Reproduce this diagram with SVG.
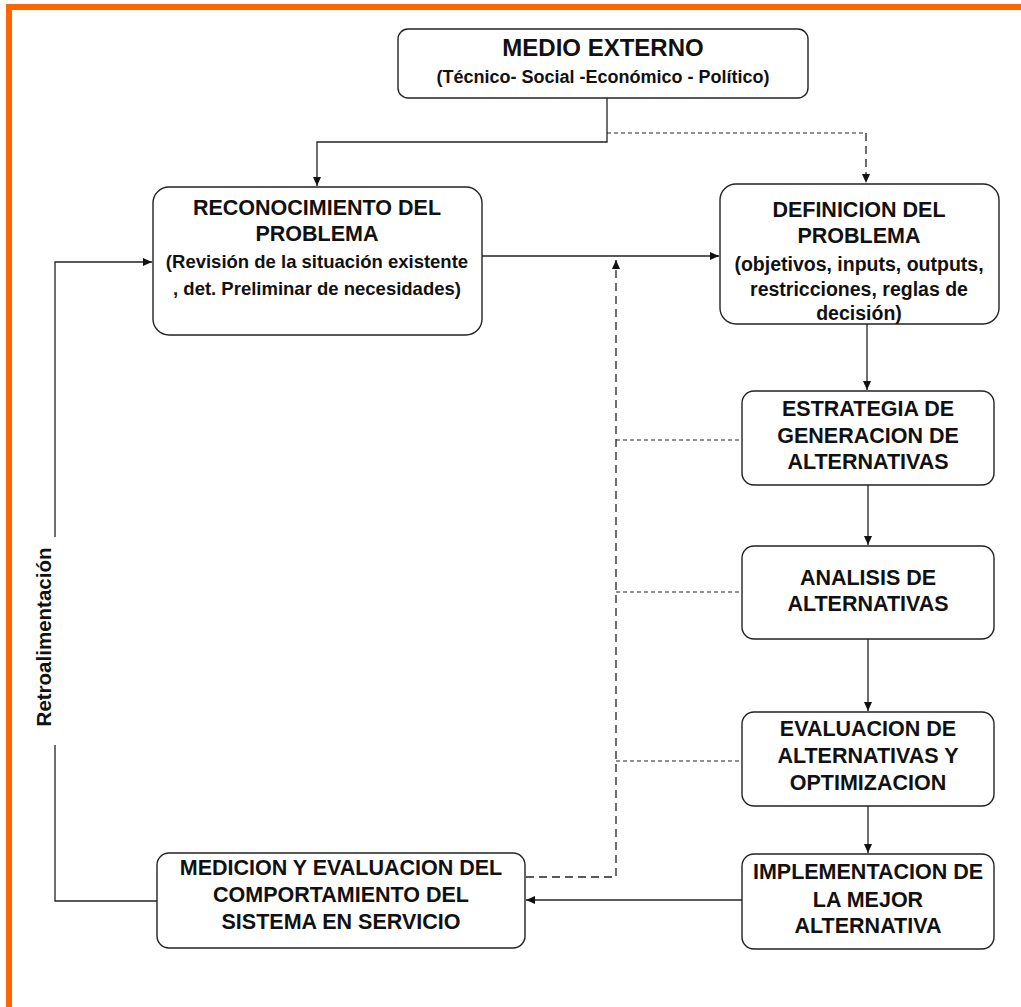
<svg xmlns="http://www.w3.org/2000/svg" width="1021" height="1007" viewBox="0 0 1021 1007">
<style>
.box{fill:#fff;stroke:#222;stroke-width:1.4}
.t{font-family:"Liberation Sans",Arial,sans-serif;font-weight:bold;font-size:21.5px;fill:#111;text-anchor:middle}
.s{font-family:"Liberation Sans",Arial,sans-serif;font-weight:bold;font-size:18.5px;fill:#111;text-anchor:middle}
.ln{fill:none;stroke:#222;stroke-width:1.3}
.dl{fill:none;stroke:#222;stroke-width:1.3;stroke-dasharray:8,5}
.ds{fill:none;stroke:#222;stroke-width:1.2;stroke-dasharray:4,3}
</style>
<defs>
<marker id="ah" markerUnits="userSpaceOnUse" markerWidth="10" markerHeight="8" refX="9" refY="4" orient="auto">
<path d="M0,0 L9,4 L0,8 z" fill="#111"/>
</marker>
</defs>
<rect x="0" y="0" width="1021" height="1007" fill="#fff"/>
<rect x="6" y="4" width="1015" height="6" fill="#ff6600"/>
<rect x="6" y="4" width="6" height="1003" fill="#ff6600"/>

<g id="connectors">
<path class="ln" d="M607,98 V142 H317 V186" marker-end="url(#ah)"/>
<path class="ds" d="M607,133 H866"/>
<path class="dl" d="M866,133 V183" marker-end="url(#ah)"/>
<path class="ln" d="M482,256 H719" marker-end="url(#ah)"/>
<path class="ln" d="M867,324 V390" marker-end="url(#ah)"/>
<path class="ln" d="M868,485 V545" marker-end="url(#ah)"/>
<path class="ln" d="M868,639 V711" marker-end="url(#ah)"/>
<path class="ln" d="M868,806 V853" marker-end="url(#ah)"/>
<path class="ln" d="M742,900 H526" marker-end="url(#ah)"/>
<path class="dl" d="M526,877 H616 V260" marker-end="url(#ah)"/>
<path class="ds" d="M616,440 H742"/>
<path class="ds" d="M616,592 H742"/>
<path class="ds" d="M616,761 H742"/>
<path class="ln" d="M157,901 H55 V745"/>
<path class="ln" d="M55,537 V262 H152" marker-end="url(#ah)"/>
<text class="t" transform="translate(51,637) rotate(-90)" style="font-size:20.5px">Retroalimentación</text>
</g>

<g id="medio-externo">
<rect class="box" x="398" y="29" width="410" height="69" rx="10"/>
<text class="t" x="603" y="56" style="font-size:24px">MEDIO EXTERNO</text>
<text class="s" x="603" y="83" style="font-size:18px">(Técnico- Social -Económico - Político)</text>
</g>

<g id="reconocimiento">
<rect class="box" x="153" y="187" width="329" height="148" rx="16"/>
<text class="t" x="317" y="215">RECONOCIMIENTO DEL</text>
<text class="t" x="317" y="241">PROBLEMA</text>
<text class="s" x="317" y="268">(Revisión de la situación existente</text>
<text class="s" x="317" y="295">, det. Preliminar de necesidades)</text>
</g>

<g id="definicion">
<rect class="box" x="720" y="184" width="279" height="140" rx="16"/>
<text class="t" x="859" y="217">DEFINICION DEL</text>
<text class="t" x="859" y="243">PROBLEMA</text>
<text class="s" x="859" y="271" style="font-size:19.5px">(objetivos, inputs, outputs,</text>
<text class="s" x="859" y="296" style="font-size:19.5px">restricciones, reglas de</text>
<text class="s" x="859" y="320" style="font-size:19.5px">decisión)</text>
</g>

<g id="estrategia">
<rect class="box" x="742" y="391" width="252" height="94" rx="12"/>
<text class="t" x="868" y="416">ESTRATEGIA DE</text>
<text class="t" x="868" y="443">GENERACION DE</text>
<text class="t" x="868" y="469">ALTERNATIVAS</text>
</g>

<g id="analisis">
<rect class="box" x="742" y="546" width="252" height="93" rx="12"/>
<text class="t" x="868" y="585">ANALISIS DE</text>
<text class="t" x="868" y="611">ALTERNATIVAS</text>
</g>

<g id="evaluacion">
<rect class="box" x="742" y="712" width="252" height="94" rx="12"/>
<text class="t" x="868" y="736">EVALUACION DE</text>
<text class="t" x="868" y="763">ALTERNATIVAS Y</text>
<text class="t" x="868" y="790">OPTIMIZACION</text>
</g>

<g id="implementacion">
<rect class="box" x="742" y="854" width="252" height="95" rx="12"/>
<text class="t" x="868" y="879">IMPLEMENTACION DE</text>
<text class="t" x="868" y="907">LA MEJOR</text>
<text class="t" x="868" y="933">ALTERNATIVA</text>
</g>

<g id="medicion">
<rect class="box" x="157" y="853" width="368" height="95" rx="12"/>
<text class="t" x="341" y="875">MEDICION Y EVALUACION DEL</text>
<text class="t" x="341" y="902">COMPORTAMIENTO DEL</text>
<text class="t" x="341" y="929">SISTEMA EN SERVICIO</text>
</g>
</svg>
